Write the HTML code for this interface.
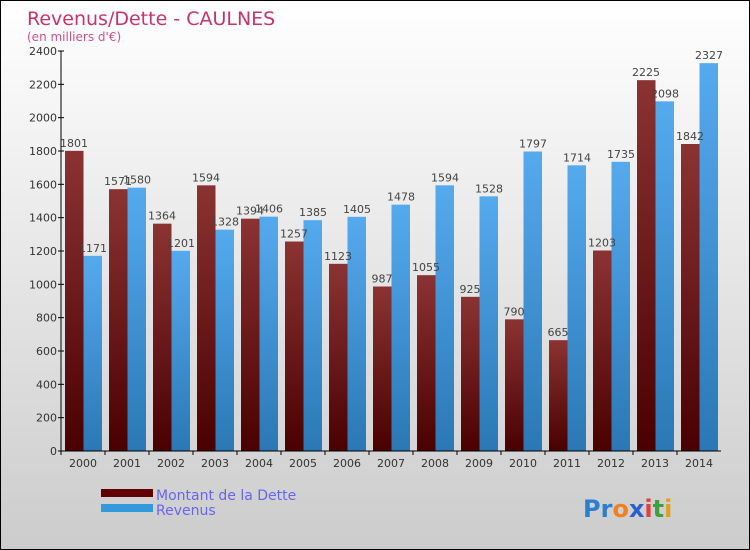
<!DOCTYPE html>
<html><head><meta charset="utf-8"><style>
body{margin:0}
#c{width:748px;height:548px;border:1px solid #000;background:linear-gradient(#fff,#ccc);position:relative;overflow:hidden;font-family:"DejaVu Sans","Liberation Sans",sans-serif}
</style></head><body>
<div id="c">
<svg id="s" width="748" height="548">
<defs>
<linearGradient id="gd" x1="0" y1="0" x2="0" y2="1"><stop offset="0" stop-color="#8b3333"/><stop offset="1" stop-color="#4a0000"/></linearGradient>
<linearGradient id="gr" x1="0" y1="0" x2="0" y2="1"><stop offset="0" stop-color="#55aaee"/><stop offset="1" stop-color="#2a78b5"/></linearGradient>
</defs>
<text x="26" y="24" font-size="19" fill="#c8336a">Revenus/Dette - CAULNES</text>
<text x="26" y="40" font-size="12" fill="#d0508a">(en milliers d'€)</text>
<g id="bars"></g>
<g id="axes"></g>
<rect x="100" y="488" width="52" height="8" fill="#600000"/>
<text x="155" y="499" font-size="14" fill="#6666ee">Montant de la Dette</text>
<rect x="100" y="503" width="52" height="8" fill="#3399dd"/>
<text x="155" y="514" font-size="14" fill="#6666ee">Revenus</text>
<text x="582" y="516" font-size="24" font-weight="bold"><tspan fill="#2a7fd0">Pr</tspan><tspan fill="#f08020">o</tspan><tspan fill="#2a5fd0">x</tspan><tspan fill="#e04040">i</tspan><tspan fill="#40a040">t</tspan><tspan fill="#e0a020">i</tspan></text>
</svg></div>
<script>
const years=["2000","2001","2002","2003","2004","2005","2006","2007","2008","2009","2010","2011","2012","2013","2014"];
const dette=[1801,1571,1364,1594,1394,1257,1123,987,1055,925,790,665,1203,2225,1842];
const revenus=[1171,1580,1201,1328,1406,1385,1405,1478,1594,1528,1797,1714,1735,2098,2327];
const yTicks=[0,200,400,600,800,1000,1200,1400,1600,1800,2000,2200,2400];
const NS="http://www.w3.org/2000/svg";
const x0=60,x1=720,y0=450,yTop=50,maxV=2400;
const gw=(x1-x0)/years.length;
const y=v=>y0-(v/maxV)*(y0-yTop);
const bars=document.getElementById('bars'),axes=document.getElementById('axes');
function mk(t,a,p){const e=document.createElementNS(NS,t);for(const k in a)e.setAttribute(k,a[k]);p.appendChild(e);return e;}
years.forEach((yr,i)=>{
 const gx=x0+i*gw;
 const r1=mk('rect',{x:gx+4,y:y(dette[i]),width:18.5,height:y0-y(dette[i]),fill:'url(#gd)'},bars);
 
 
 const r2=mk('rect',{x:gx+22.5,y:y(revenus[i]),width:18.5,height:y0-y(revenus[i]),fill:'url(#gr)'},bars);
 
 
 const t1=mk('text',{x:gx+13,y:y(dette[i])-4,'font-size':11,fill:'#444','text-anchor':'middle'},bars);t1.textContent=dette[i];
 
 
 const t2=mk('text',{x:gx+32,y:y(revenus[i])-4,'font-size':11,fill:'#444','text-anchor':'middle'},bars);t2.textContent=revenus[i];
 
 
 const xl=mk('text',{x:gx+gw/2,y:466,'font-size':11,fill:'#333','text-anchor':'middle'},axes);xl.textContent=yr;
 
 
 mk('line',{x1:gx,x2:gx,y1:y0,y2:y0+4,stroke:'#000'},axes);
});
mk('line',{x1:x0,x2:x0,y1:yTop,y2:y0,stroke:'#000'},axes);
mk('line',{x1:x0,x2:x1,y1:y0,y2:y0,stroke:'#000'},axes);
yTicks.forEach(v=>{
 mk('line',{x1:x0-3,x2:x0+3,y1:y(v),y2:y(v),stroke:'#000'},axes);
 const t=mk('text',{x:x0-4,y:y(v)+4,'font-size':11,fill:'#333','text-anchor':'end'},axes);t.textContent=v;
 
 
});
</script>
</body></html>
